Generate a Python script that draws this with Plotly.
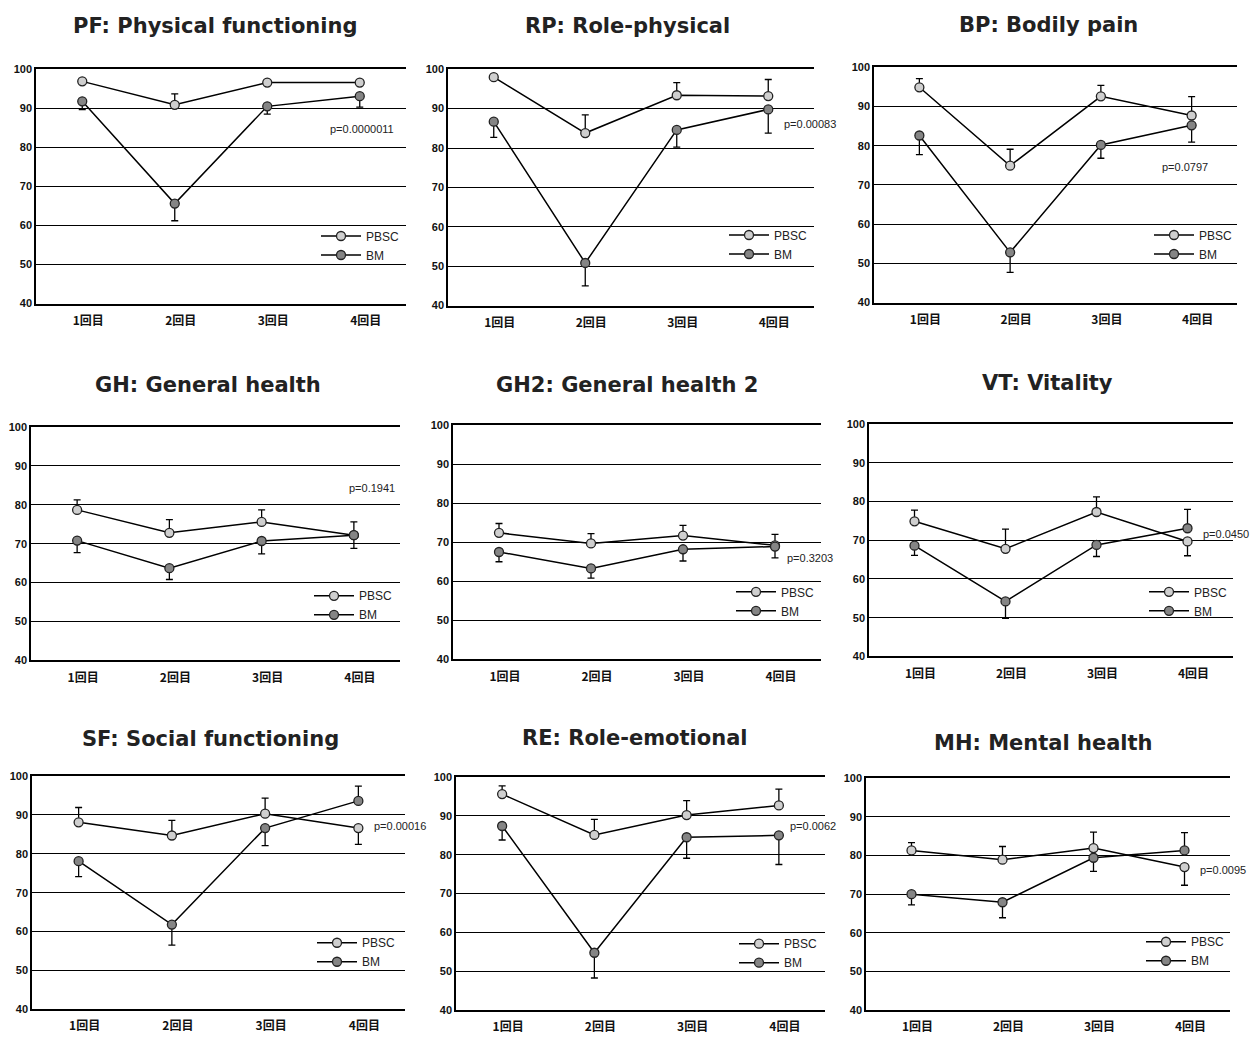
import plotly.graph_objects as go

categories = ["1回目", "2回目", "3回目", "4回目"]
series_names = ["PBSC", "BM"]

titles = ["PF: Physical functioning", "RP: Role-physical", "BP: Bodily pain",
          "GH: General health", "GH2: General health 2", "VT: Vitality",
          "SF: Social functioning", "RE: Role-emotional", "MH: Mental health"]
p_values = ["p=0.0000011", "p=0.00083", "p=0.0797", "p=0.1941", "p=0.3203",
            "p=0.0450", "p=0.00016", "p=0.0062", "p=0.0095"]
y_ticks = [40, 50, 60, 70, 80, 90, 100]

# PF
pf_pbsc = [96.9, 90.9, 96.6, 96.6]
pf_pbsc_up = [0.3, 2.8, 0.5, 0.6]
pf_pbsc_dn = [0, 0, 0, 0]
pf_bm = [91.8, 65.6, 90.5, 93.1]
pf_bm_up = [0, 0, 0, 0]
pf_bm_dn = [2.1, 4.4, 2.0, 2.8]
# RP
rp_pbsc = [98.0, 83.8, 93.4, 93.2]
rp_pbsc_up = [0.2, 4.6, 3.2, 4.2]
rp_pbsc_dn = [0, 0, 0, 0]
rp_bm = [86.7, 50.8, 84.6, 89.8]
rp_bm_up = [0, 0, 0, 0]
rp_bm_dn = [4.0, 5.8, 4.4, 6.0]
# BP
bp_pbsc = [94.9, 74.9, 92.6, 87.7]
bp_pbsc_up = [2.2, 4.2, 2.8, 4.8]
bp_pbsc_dn = [0, 0, 0, 0]
bp_bm = [82.6, 52.8, 80.2, 85.2]
bp_bm_up = [0, 0, 0, 0]
bp_bm_dn = [4.9, 5.1, 3.4, 4.3]
# GH
gh_pbsc = [78.7, 72.8, 75.6, 72.2]
gh_pbsc_up = [2.6, 3.4, 3.1, 3.4]
gh_pbsc_dn = [0, 0, 0, 0]
gh_bm = [70.8, 63.7, 70.7, 72.2]
gh_bm_up = [0, 0, 0, 0]
gh_bm_dn = [3.1, 2.9, 3.3, 3.4]
# GH2
gh2_pbsc = [72.4, 69.7, 71.7, 69.2]
gh2_pbsc_up = [2.4, 2.5, 2.6, 2.8]
gh2_pbsc_dn = [0, 0, 0, 0]
gh2_bm = [67.5, 63.3, 68.2, 68.9]
gh2_bm_up = [0, 0, 0, 0]
gh2_bm_dn = [2.5, 2.5, 3.0, 2.9]
# VT
vt_pbsc = [74.9, 67.8, 77.3, 69.7]
vt_pbsc_up = [2.9, 5.1, 3.9, 0]
vt_pbsc_dn = [0, 0, 0, 3.7]
vt_bm = [68.6, 54.2, 68.8, 73.1]
vt_bm_up = [0, 0, 0, 4.9]
vt_bm_dn = [2.5, 4.4, 3.0, 0]
# SF
sf_pbsc = [88.1, 84.7, 90.3, 86.6]
sf_pbsc_up = [3.8, 3.9, 4.0, 0]
sf_pbsc_dn = [0, 0, 0, 4.2]
sf_bm = [78.1, 61.8, 86.6, 93.6]
sf_bm_up = [0, 0, 0, 3.8]
sf_bm_dn = [4.0, 5.3, 4.5, 0]
# RE
re_pbsc = [95.6, 85.1, 90.2, 92.7]
re_pbsc_up = [2.1, 4.0, 3.7, 4.2]
re_pbsc_dn = [0, 0, 0, 0]
re_bm = [87.4, 54.8, 84.5, 85.0]
re_bm_up = [0, 0, 0, 0]
re_bm_dn = [3.6, 6.5, 5.4, 7.5]
# MH
mh_pbsc = [81.3, 78.9, 81.9, 77.0]
mh_pbsc_up = [2.0, 3.4, 4.1, 0]
mh_pbsc_dn = [0, 0, 0, 4.7]
mh_bm = [70.0, 67.9, 79.4, 81.3]
mh_bm_up = [0, 0, 0, 4.6]
mh_bm_dn = [2.8, 4.0, 3.5, 0]

panels = [
    (pf_pbsc, pf_pbsc_up, pf_pbsc_dn, pf_bm, pf_bm_up, pf_bm_dn),
    (rp_pbsc, rp_pbsc_up, rp_pbsc_dn, rp_bm, rp_bm_up, rp_bm_dn),
    (bp_pbsc, bp_pbsc_up, bp_pbsc_dn, bp_bm, bp_bm_up, bp_bm_dn),
    (gh_pbsc, gh_pbsc_up, gh_pbsc_dn, gh_bm, gh_bm_up, gh_bm_dn),
    (gh2_pbsc, gh2_pbsc_up, gh2_pbsc_dn, gh2_bm, gh2_bm_up, gh2_bm_dn),
    (vt_pbsc, vt_pbsc_up, vt_pbsc_dn, vt_bm, vt_bm_up, vt_bm_dn),
    (sf_pbsc, sf_pbsc_up, sf_pbsc_dn, sf_bm, sf_bm_up, sf_bm_dn),
    (re_pbsc, re_pbsc_up, re_pbsc_dn, re_bm, re_bm_up, re_bm_dn),
    (mh_pbsc, mh_pbsc_up, mh_pbsc_dn, mh_bm, mh_bm_up, mh_bm_dn),
]

# ---------------- layout (pixel geometry) ----------------
W, H = 1257, 1040
boxes = [(36, 406, 64, 301), (448, 814, 64, 303), (874, 1237, 62, 300),
         (31, 400, 426, 662), (453, 821, 424, 661), (869, 1233, 423, 658),
         (32, 405, 779, 1015), (456, 825, 780, 1016), (866, 1230, 781, 1016)]
title_pos = [(215, 20), (627, 20), (1048, 19), (208, 383), (627, 383), (1047, 381),
             (210, 742), (635, 741), (1043, 746)]
legend_pos = [(322, 232), (730, 231), (1155, 231), (315, 596), (737, 592), (1150, 592),
              (318, 947), (740, 948), (1147, 946)]
p_pos = [(362, 124), (810, 119), (1185, 163), (372, 488), (810, 558), (1226, 534),
         (400, 830), (813, 830), (1223, 874)]

marker_fill = {"PBSC": "#cfcfcf", "BM": "#858585"}
FONT = "Liberation Sans, Arial, sans-serif"
TFONT = "DejaVu Sans, Liberation Sans, sans-serif"
CJK = "Noto Sans CJK JP, Liberation Sans, sans-serif"

fig = go.Figure()
layout = dict(width=W, height=H, margin=dict(l=0, r=0, t=0, b=0),
              paper_bgcolor="white", plot_bgcolor="white", showlegend=True,
              annotations=[])

for i, (vals, box) in enumerate(zip(panels, boxes)):
    k = i + 1
    sfx = "" if k == 1 else str(k)
    x0, x1, yt, yb = box
    leg = "legend" + sfx
    data_sets = [(series_names[0], vals[0], vals[1], vals[2]),
                 (series_names[1], vals[3], vals[4], vals[5])]
    for name, y, up, dn in data_sets:
        fig.add_trace(go.Scatter(
            x=categories, y=y, name=name, mode="lines+markers",
            xaxis="x" + sfx, yaxis="y" + sfx, legend=leg,
            line=dict(color="black", width=1.5),
            marker=dict(symbol="circle", size=9, color=marker_fill[name],
                        line=dict(color="#222222", width=1.3)),
            error_y=dict(type="data", symmetric=False, array=up, arrayminus=dn,
                         color="black", thickness=1.3, width=3.5),
        ))
    layout["xaxis" + sfx] = dict(
        domain=[x0 / W, x1 / W], anchor="y" + sfx, type="category",
        range=[-0.5, 3.5], showgrid=False, zeroline=False,
        showline=True, linecolor="black", linewidth=1.5, mirror=True,
        ticks="outside", ticklen=5, tickcolor="rgba(0,0,0,0)", ticklabelshift=6,
        tickfont=dict(family=CJK, size=12, color="#111111", weight="bold"),
    )
    layout["yaxis" + sfx] = dict(
        domain=[1 - yb / H, 1 - yt / H], anchor="x" + sfx,
        range=[40, 100], tickvals=y_ticks, showgrid=True,
        gridcolor="black", gridwidth=1.3, zeroline=False,
        showline=True, linecolor="black", linewidth=1.5,
        ticks="", tickfont=dict(family=FONT, size=11, color="#111111", weight="bold"),
    )
    lx, ly = legend_pos[i]
    layout[leg] = dict(
        x=(lx - 6) / W, y=1 - (ly - 14) / H, xanchor="left", yanchor="top",
        xref="paper", yref="paper", bgcolor="rgba(0,0,0,0)", borderwidth=0,
        font=dict(family=FONT, size=12, color="#222222"),
        itemwidth=40, tracegroupgap=0,
    )
    tx, ty = title_pos[i]
    layout["annotations"].append(dict(
        text=titles[i], x=tx / W, y=1 - ty / H, xref="paper", yref="paper",
        xanchor="center", yanchor="middle", showarrow=False,
        font=dict(family=TFONT, size=21, color="#222222", weight="bold")))
    px, py = p_pos[i]
    layout["annotations"].append(dict(
        text=p_values[i], x=px / W, y=1 - py / H, xref="paper", yref="paper",
        xanchor="center", yanchor="middle", showarrow=False,
        font=dict(family=FONT, size=11, color="#222222")))

fig.update_layout(**layout)
fig.write_html("out.html", config={"displayModeBar": False})

# remove the default page margin so the figure sits at the window's top-left corner
with open("out.html", "r", encoding="utf-8") as f:
    html = f.read()
html = html.replace("<head>", "<head><style>html,body{margin:0;padding:0;overflow:hidden;}</style>", 1)
with open("out.html", "w", encoding="utf-8") as f:
    f.write(html)
